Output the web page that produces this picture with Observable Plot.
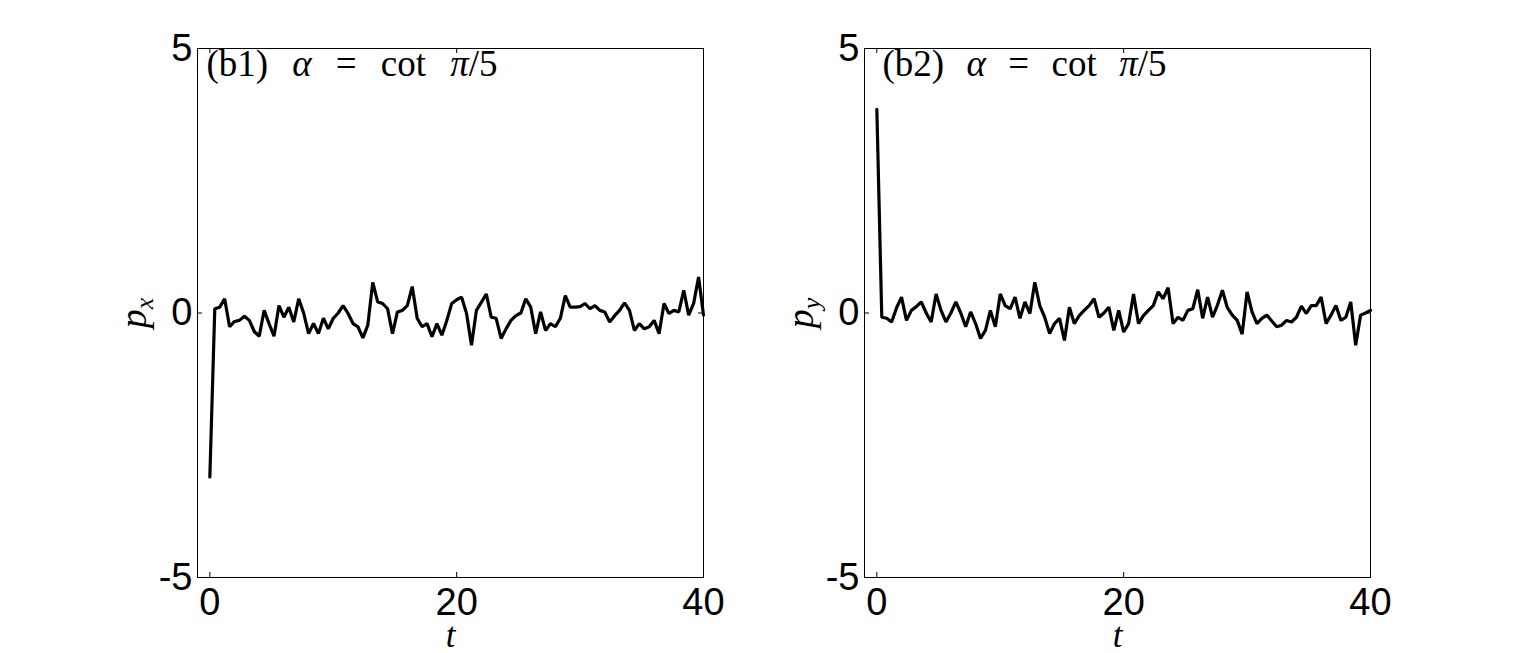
<!DOCTYPE html>
<html>
<head>
<meta charset="utf-8">
<script src="https://cdn.jsdelivr.net/npm/d3@7"></script>
<script src="https://cdn.jsdelivr.net/npm/@observablehq/plot@0.6"></script>
<style>
  html, body { margin: 0; padding: 0; background: #fff; }
  #wrap { display: flex; width: 1514px; height: 653px; overflow: hidden; }
</style>
</head>
<body>
<div id="wrap"></div>
<script>
// ---- data ----
const dt = 0.4;   // sampling step of the time series
const pxValues = [
  -3.1, 0.08, 0.11, 0.27, -0.26, -0.16, -0.14, -0.06, -0.14, -0.35,
  -0.44, 0.05, -0.2, -0.44, 0.14, -0.08, 0.11, -0.17, 0.27, 0.0,
  -0.39, -0.2, -0.39, -0.1, -0.3, -0.1, 0.0, 0.14, -0.01, -0.2,
  -0.26, -0.47, -0.23, 0.58, 0.21, 0.18, 0.08, -0.39, 0.02, 0.05,
  0.14, 0.5, -0.1, -0.26, -0.2, -0.45, -0.2, -0.42, -0.14, 0.18,
  0.25, 0.3, -0.01, -0.61, 0.05, 0.2, 0.36, -0.08, -0.1, -0.48,
  -0.3, -0.14, -0.05, 0.0, 0.27, 0.11, -0.39, 0.02, -0.33, -0.2,
  -0.26, -0.1, 0.33, 0.11, 0.11, 0.12, 0.18, 0.08, 0.14, 0.05,
  0.02, -0.17, -0.05, 0.05, 0.19, 0.05, -0.33, -0.2, -0.3, -0.26,
  -0.14, -0.39, 0.18, -0.01, 0.05, 0.02, 0.43, -0.04, 0.18, 0.68,
  -0.04
];
const pyValues = [
  3.85, -0.08, -0.1, -0.17, 0.1, 0.3, -0.14, 0.05, 0.12, 0.21,
  0.0, -0.17, 0.36, 0.05, -0.17, 0.0, 0.21, 0.0, -0.26, 0.02,
  -0.2, -0.48, -0.33, 0.05, -0.26, 0.36, 0.14, 0.08, 0.3, -0.1,
  0.21, -0.01, 0.58, 0.14, -0.08, -0.39, -0.2, -0.1, -0.52, 0.11,
  -0.2, -0.05, 0.05, 0.14, 0.27, -0.08, 0.0, 0.11, -0.33, 0.05,
  -0.36, -0.2, 0.36, -0.2, -0.05, 0.05, 0.14, 0.4, 0.27, 0.48,
  -0.2, -0.08, -0.14, 0.05, 0.08, 0.44, -0.1, 0.3, -0.08, 0.15,
  0.43, 0.1, -0.04, -0.14, -0.4, 0.4, 0.02, -0.2, -0.1, -0.04,
  -0.15, -0.26, -0.23, -0.14, -0.17, -0.08, 0.13, -0.01, 0.14, 0.14,
  0.3, -0.2, -0.04, 0.14, -0.14, -0.08, 0.21, -0.61, -0.04, 0.0,
  0.05
];
const xDomain = [-1, 40];
const yDomain = [-5, 5];
const xTicks = [0, 20, 40];
const xTickLabels = ["0", "20", "40"];
const yTicks = [-5, 0, 5];
const yTickLabels = ["-5", "0", "5"];
const panelTitles = ["(b1) α = cot π/5", "(b2) α = cot π/5"];
const yLabelBase = "p";
const yLabelSubs = ["x", "y"];
const xLabel = "t";

// ---- layout ----
const W = 757, H = 653;
const mTop = 48, mBottom = 76;
const innerH = H - mTop - mBottom;
const innerW = 506;
const TICK = 5;
const SVGNS = "http://www.w3.org/2000/svg";

function makePanel(values, opts) {
  const data = values.map((p, i) => ({t: i * dt, p}));
  const svg = Plot.plot({
    width: W,
    height: H,
    marginLeft: opts.marginLeft,
    marginRight: W - opts.marginLeft - innerW,
    marginTop: mTop,
    marginBottom: mBottom,
    x: {domain: xDomain},
    y: {domain: yDomain},
    style: {background: "#fff", color: "#000", fontFamily: "Liberation Sans, Arial, sans-serif", overflow: "visible"},
    marks: [
      Plot.frame({stroke: "#000", strokeWidth: 1}),
      // inward ticks on all four sides
      Plot.tickX(xTicks, {x: d => d, insetTop: innerH - TICK, stroke: "#000"}),
      Plot.tickX(xTicks, {x: d => d, insetBottom: innerH - TICK, stroke: "#000"}),
      Plot.tickY(yTicks, {y: d => d, insetRight: innerW - TICK, stroke: "#000"}),
      Plot.tickY(yTicks, {y: d => d, insetLeft: innerW - TICK, stroke: "#000"}),
      Plot.axisX({ticks: xTicks, tickSize: 0, tickPadding: 11, fontSize: 38,
        tickFormat: d => xTickLabels[xTicks.indexOf(d)], label: null}),
      Plot.axisY({ticks: yTicks, tickSize: 0, tickPadding: 5, fontSize: 38,
        tickFormat: d => yTickLabels[yTicks.indexOf(d)], label: null}),
      Plot.line(data, {x: "t", y: "p", stroke: "#000", strokeWidth: 3.2, strokeLinejoin: "miter"}),
      Plot.text([opts.title], {frameAnchor: "top-left", dx: opts.titleDx, dy: 27, textAnchor: "start",
        lineAnchor: "bottom", fontSize: 37, fontFamily: "Liberation Serif, serif"}),
      Plot.text([xLabel], {frameAnchor: "bottom", dy: 69, lineAnchor: "bottom", fontSize: 35,
        fontStyle: "italic", fontFamily: "Liberation Serif, serif"}),
      Plot.text([yLabelBase], {frameAnchor: "left", dx: -52, rotate: -90, lineAnchor: "bottom",
        textAnchor: "middle", fontSize: 38, fontStyle: "italic", fontFamily: "Liberation Serif, serif"})
    ]
  });

  const texts = Array.from(svg.querySelectorAll("text"));
  // rich text: title with italic greek letters
  const tt = texts.find(t => t.textContent === opts.title);
  if (tt) {
    const s = opts.title;
    tt.textContent = "";
    const parts = [];
    let buf = "";
    for (const ch of s) {
      if (ch === "α" || ch === "π") { if (buf) parts.push([buf, false]); parts.push([ch, true]); buf = ""; }
      else buf += ch;
    }
    if (buf) parts.push([buf, false]);
    for (const [txt, it] of parts) {
      const ts = document.createElementNS(SVGNS, "tspan");
      ts.textContent = txt;
      if (it) ts.setAttribute("font-style", "italic");
      tt.appendChild(ts);
    }
    svg.__title = tt;
  }
  // y label with subscript
  const yl = texts.find(t => t.textContent === yLabelBase);
  if (yl) {
    const sub = document.createElementNS(SVGNS, "tspan");
    sub.textContent = opts.sub;
    sub.setAttribute("font-size", "26");
    sub.setAttribute("dy", "7");
    yl.appendChild(sub);
  }
  return svg;
}

function fitTitle(svg, target) {
  const tt = svg.__title;
  if (!tt) return;
  const natural = tt.getComputedTextLength();
  const spaces = (tt.textContent.match(/ /g) || []).length;
  if (spaces > 0 && natural < target) tt.setAttribute("word-spacing", ((target - natural) / spaces).toFixed(2));
}

const wrap = document.getElementById("wrap");
const left = makePanel(pxValues, {marginLeft: 197, title: panelTitles[0], sub: yLabelSubs[0], titleDx: 9});
const right = makePanel(pyValues, {marginLeft: 107, title: panelTitles[1], sub: yLabelSubs[1], titleDx: 18});
wrap.appendChild(left);
wrap.appendChild(right);
fitTitle(left, 291);
fitTitle(right, 284);
</script>
</body>
</html>
